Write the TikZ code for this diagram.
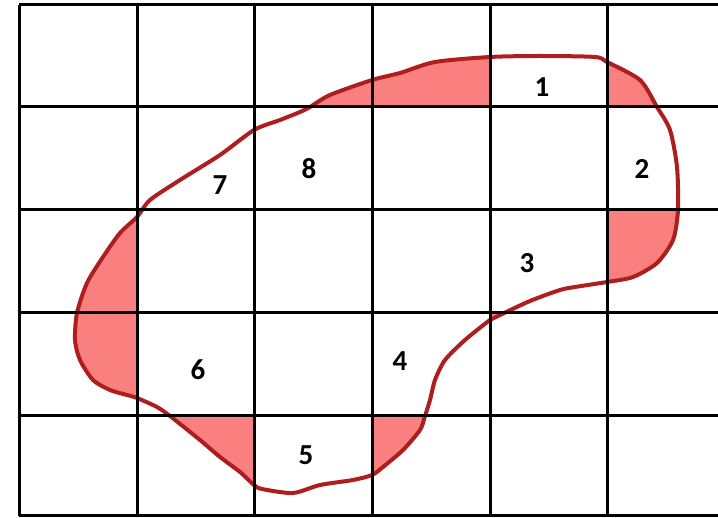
\documentclass[tikz,border=0pt]{standalone}
\usepackage{fontspec}
\setmainfont{Carlito}
\definecolor{pinkfill}{RGB}{250,128,128}
\definecolor{curvered}{RGB}{175,30,30}
\tikzset{
  gridline/.style={black,line width=3pt},
  blobline/.style={curvered,line width=4pt,line join=round},
  lbl/.style={font=\fontsize{29}{32}\selectfont\bfseries,inner sep=0pt}
}
\def\blob{plot[smooth cycle,tension=0.45] coordinates{
 (310,107) (330,95) (372,80) (400,73) (435,62) (490,57) (540,56) (595,57) (607,62) (640,80) (657,107)
 (670,130) (677,167) (678,210) (673,240) (657,263) (633,277) (607,282) (575,287) (560,290)
 (530,301) (500,315) (490,320) (465,340) (445,360) (435,380) (430,400) (425,416) (420,430)
 (403,450) (383,467) (372,475) (353,480) (320,485) (293,493) (262,489) (254,485) (240,472)
 (220,457) (200,440) (170,416) (157,407) (137,398) (127,395) (110,390) (93,380) (80,360)
 (75,340) (77,313) (87,283) (103,257) (120,233) (137,217) (150,200) (180,180) (220,155)
 (254,130) (280,120) (300,112)}}
\begin{document}
\begin{tikzpicture}[x=1pt,y=-1pt]
\useasboundingbox (0,0) rectangle (718,518);
\fill[white] (0,0) rectangle (718,518);
\begin{scope}
\clip \blob;
\fill[pinkfill] (254,5) rectangle (490,107);
\fill[pinkfill] (607,5) rectangle (718,107);
\fill[pinkfill] (19,210) rectangle (137,313);
\fill[pinkfill] (607,210) rectangle (718,313);
\fill[pinkfill] (19,313) rectangle (137,416);
\fill[pinkfill] (490,313) rectangle (607,416);
\fill[pinkfill] (137,416) rectangle (254,516);
\fill[pinkfill] (372,416) rectangle (490,516);
\end{scope}
\draw[blobline] \blob;
\foreach \x in {19,137,254,372,490,607}{\draw[gridline] (\x,5) -- (\x,516);}
\foreach \y in {5,107,210,313,416,516}{\draw[gridline] (19,\y) -- (718,\y);}
\node[lbl] (n1) at (542,87) {1};
\node[lbl] (n2) at (642,169) {2};
\node[lbl] (n3) at (527,263) {3};
\node[lbl] (n4) at (400,361) {4};
\node[lbl] (n5) at (306,455) {5};
\node[lbl] (n6) at (198,370) {6};
\node[lbl] (n7) at (220,185) {7};
\node[lbl] (n8) at (309,169) {8};
\end{tikzpicture}
\end{document}
